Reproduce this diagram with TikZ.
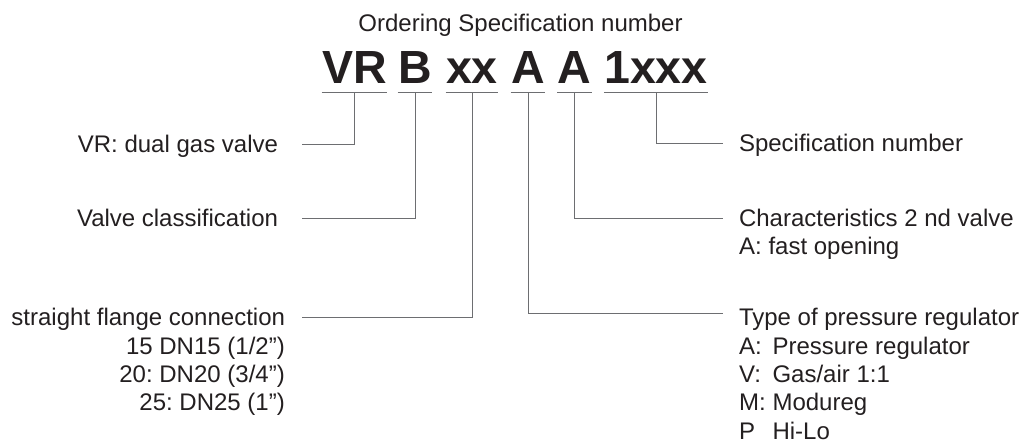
\documentclass[tikz,border=0pt]{standalone}
\usepackage{fontspec}
\setmainfont{Liberation Sans}
\definecolor{txt}{HTML}{231F20}
\definecolor{ln}{HTML}{6D6E71}
\frenchspacing
\begin{document}
\begin{tikzpicture}[x=1pt,y=-1pt,
  title/.style={font=\fontsize{24}{28.3}\selectfont, text=txt, inner sep=0pt, anchor=base},
  code/.style={font=\fontsize{46.5}{50}\selectfont\bfseries, text=txt, anchor=base,
    inner xsep=0.5pt, inner ysep=0pt, text depth=0pt, outer ysep=9pt, outer xsep=0pt},
  lbl/.style={font=\fontsize{24}{28.3}\selectfont, text=txt, inner sep=0pt,
    text height=17pt, text depth=0pt},
  sub/.style={font=\fontsize{24}{28.3}\selectfont, text=txt, inner sep=0pt},
  conn/.style={draw=ln, line width=0.9pt},
  uline/.style={draw=ln, line width=0.9pt}]
\useasboundingbox (0,0) rectangle (1025,444);

\node[title] (ttl) at (520.5,32) {Ordering Specification number};

% code pieces
\node[code] (c1) at (354.5,83) {VR};
\node[code] (c2) at (415,83) {B};
\node[code] (c3) at (472,83) {xx};
\node[code] (c4) at (528,83) {A};
\node[code] (c5) at (574.5,83) {A};
\node[code] (c6) at (656,83) {1xxx};
\foreach \c in {c1,c2,c3,c4,c5,c6}
  \draw[uline] (\c.south west) -- (\c.south east);

% left labels
\node[lbl, anchor=base east, outer xsep=24pt] (vr) at (302,152.5) {VR: dual gas valve};
\node[lbl, anchor=base east, outer xsep=24pt] (vc) at (302,226.5) {Valve classification};
\node[lbl, anchor=base east, outer xsep=17pt] (sf) at (302,325.7) {straight flange connection};
\node[sub, anchor=base east] (sfs) at (285,354.2) {\begin{tabular}[t]{@{}r@{}}15 DN15 (1/2”)\\20: DN20 (3/4”)\\25: DN25 (1”)\end{tabular}};

% right labels
\node[lbl, anchor=base west, outer xsep=16pt] (sn) at (723,151.5) {Specification number};
\node[lbl, anchor=base west, outer xsep=16pt] (ch) at (723,226.7) {Characteristics 2 nd valve};
\node[sub, anchor=base west] (chs) at (739,254.3) {A: fast opening};
\node[lbl, anchor=base west, outer xsep=16pt] (tp) at (723,325.7) {Type of pressure regulator};
\node[sub, anchor=base west] (tps) at (739,354.2) {\begin{tabular}[t]{@{}l@{\space}l@{}}A: & Pressure regulator\\V: & Gas/air 1:1\\M: & Modureg\\P & Hi-Lo\end{tabular}};

% connectors
\draw[conn] (c1.south) |- (vr.east);
\draw[conn] (c2.south) |- (vc.east);
\draw[conn] (c3.south) |- (sf.east);
\draw[conn] (c4.south) |- ([yshift=4.2pt]tp.west);
\draw[conn] (c5.south) |- (ch.west);
\draw[conn] (c6.south) |- (sn.west);
\end{tikzpicture}
\end{document}
